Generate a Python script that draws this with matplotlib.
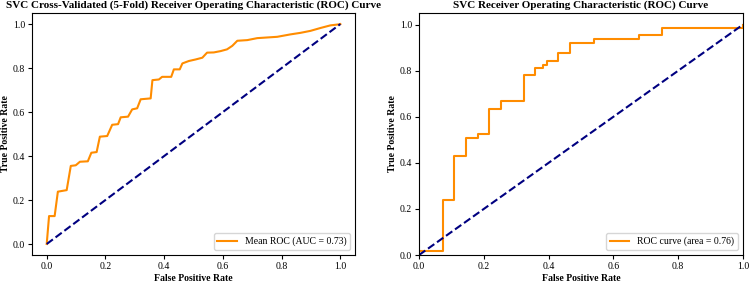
import matplotlib
matplotlib.use("Agg")
import matplotlib.pyplot as plt

plt.rcParams["font.family"] = ["Liberation Serif", "DejaVu Serif"]

# ===== 左图：5 折交叉验证的平均 ROC =====
mean_fpr = [0.0, 0.008, 0.027, 0.038, 0.068, 0.082, 0.099, 0.113, 0.14, 0.152,
            0.17, 0.181, 0.206, 0.223, 0.243, 0.252, 0.277, 0.291, 0.308, 0.32,
            0.354, 0.36, 0.382, 0.393, 0.424, 0.433, 0.453, 0.462, 0.484, 0.507,
            0.53, 0.546, 0.569, 0.592, 0.614, 0.632, 0.649, 0.683, 0.717, 0.785,
            0.83, 0.864, 0.898, 0.932, 0.966, 0.998, 1.0]
mean_tpr = [0.0, 0.127, 0.127, 0.238, 0.245, 0.355, 0.358, 0.374, 0.376, 0.415,
            0.418, 0.488, 0.491, 0.542, 0.545, 0.576, 0.579, 0.612, 0.617, 0.658,
            0.662, 0.745, 0.748, 0.76, 0.76, 0.794, 0.794, 0.821, 0.832, 0.839,
            0.847, 0.87, 0.871, 0.877, 0.885, 0.901, 0.924, 0.927, 0.936, 0.942,
            0.953, 0.96, 0.969, 0.982, 0.994, 0.999, 1.0]
mean_auc = 0.73

# ===== 右图：单次 ROC =====
fpr = [0.0, 0.0, 0.075, 0.075, 0.109, 0.109, 0.144, 0.144, 0.181, 0.181,
       0.216, 0.216, 0.253, 0.253, 0.325, 0.325, 0.358, 0.358, 0.383, 0.383,
       0.396, 0.396, 0.43, 0.43, 0.467, 0.467, 0.539, 0.539, 0.68, 0.68,
       0.751, 0.751, 1.0, 1.0]
tpr = [0.0, 0.017, 0.017, 0.24, 0.24, 0.43, 0.43, 0.509, 0.509, 0.526,
       0.526, 0.633, 0.633, 0.668, 0.668, 0.78, 0.78, 0.813, 0.813, 0.825,
       0.825, 0.842, 0.842, 0.875, 0.875, 0.921, 0.921, 0.937, 0.937, 0.954,
       0.954, 0.985, 0.985, 1.0]
roc_auc = 0.76

fig = plt.figure(figsize=(7.5, 2.82), dpi=100)
ax1 = fig.add_axes([0.0427, 0.0957, 0.4307, 0.858])
ax2 = fig.add_axes([0.5587, 0.0957, 0.432, 0.858])

ax1.plot(mean_fpr, mean_tpr, color="darkorange", lw=1.5,
         label=f"Mean ROC (AUC = {mean_auc:.2f})")
ax1.plot([0, 1], [0, 1], color="navy", lw=1.5, linestyle="--")
ax1.set_title("SVC Cross-Validated (5-Fold) Receiver Operating Characteristic (ROC) Curve",
              fontsize=8, fontweight="bold", pad=4)

ax2.plot(fpr, tpr, color="darkorange", lw=1.5,
         label=f"ROC curve (area = {roc_auc:.2f})")
ax2.plot([0, 1], [0, 1], color="navy", lw=1.5, linestyle="--")
ax2.set_xlim(0.0, 1.0)
ax2.set_ylim(0.0, 1.05)
ax2.set_title("SVC Receiver Operating Characteristic (ROC) Curve",
              fontsize=8, fontweight="bold", pad=4)

for ax in (ax1, ax2):
    ax.set_xlabel("False Positive Rate", fontsize=7, fontweight="bold", labelpad=2)
    ax.set_ylabel("True Positive Rate", fontsize=7, fontweight="bold", labelpad=2)
    ax.tick_params(labelsize=7, length=3, pad=2)
    ax.legend(loc="lower right", fontsize=7)

fig.savefig("out.png", dpi=100)
